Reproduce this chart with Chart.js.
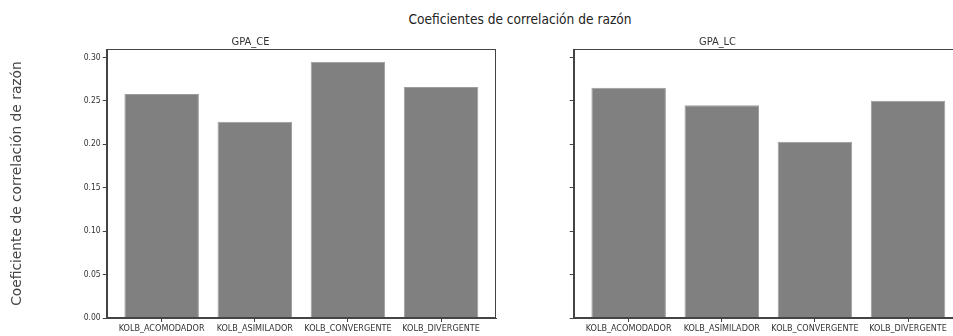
<!DOCTYPE html>
<html>
<head>
<meta charset="utf-8">
<script src="https://cdn.jsdelivr.net/npm/chart.js@4/dist/chart.umd.min.js"></script>
<style>
  html, body { margin: 0; padding: 0; background: #fff; }
  #fig { position: relative; width: 953px; height: 336px; overflow: hidden; background: #fff; }
  #suptitle {
    position: absolute; left: 520px; top: 11px; transform: translateX(-50%);
    font-family: "DejaVu Sans Condensed", "DejaVu Sans", sans-serif; font-size: 13.6px;
    color: #222; white-space: nowrap;
  }
  .panel { position: absolute; top: 0; width: 500px; height: 336px; }
  #p1 { left: 0; }
  #p2 { left: 467px; }
</style>
</head>
<body>
<div id="fig">
  <div id="suptitle">Coeficientes de correlación de razón</div>
  <div class="panel" id="p1"><canvas id="c1" width="500" height="336"></canvas></div>
  <div class="panel" id="p2"><canvas id="c2" width="500" height="336"></canvas></div>
</div>
<script>
// Learning styles (Kolb) and ratio correlation coefficients for each GPA measure
const categories = ["KOLB_ACOMODADOR", "KOLB_ASIMILADOR", "KOLB_CONVERGENTE", "KOLB_DIVERGENTE"];
const gpaCE = [0.258, 0.226, 0.295, 0.266];
const gpaLC = [0.265, 0.245, 0.203, 0.250];
const yTicks = [0.00, 0.05, 0.10, 0.15, 0.20, 0.25, 0.30];
const yLabel = "Coeficiente de correlación de razón";

const INK = "#333";
const SPINE = "#444";
const CONDENSED = '"DejaVu Sans Condensed", "DejaVu Sans", sans-serif';

// draws the closed box around the plotting area
const frame = {
  id: "frame",
  afterDraw(chart) {
    const { ctx, chartArea: a } = chart;
    ctx.save();
    ctx.strokeStyle = SPINE;
    ctx.lineWidth = 1;
    const l = Math.round(a.left) + 0.5, t = Math.round(a.top) + 0.5;
    const r = Math.round(a.right) - 0.5, b = Math.round(a.bottom) - 0.5;
    ctx.strokeRect(l, t, r - l, b - t);
    ctx.restore();
  }
};

function makePanel(canvasId, title, values, showYLabels) {
  return new Chart(document.getElementById(canvasId), {
    type: "bar",
    data: {
      datasets: [{
        data: categories.map((c, i) => ({ x: i, y: values[i] })),
        backgroundColor: "#808080",
        borderColor: "#9c9c9c",
        borderWidth: 1,
        barPercentage: 0.8,
        categoryPercentage: 1.0
      }]
    },
    options: {
      responsive: false,
      animation: false,
      layout: { padding: { left: 5, right: 4, top: 0, bottom: 0 } },
      plugins: {
        legend: { display: false },
        tooltip: { enabled: false },
        title: {
          display: true,
          text: title,
          color: INK,
          font: { family: CONDENSED, size: 11, weight: "normal", lineHeight: 1.2 },
          padding: { top: 35.4, bottom: 0.4 }
        }
      },
      scales: {
        x: {
          type: "linear",
          offset: false,
          min: -0.59,
          max: 3.59,
          afterBuildTicks: s => { s.ticks = categories.map((c, i) => ({ value: i })); },
          afterFit: s => { s.height = 18; },
          ticks: {
            autoSkip: false,
            maxRotation: 0,
            color: INK,
            padding: 1,
            font: { family: CONDENSED, size: 9 },
            callback: v => categories[v]
          },
          grid: { offset: false, drawOnChartArea: false, drawTicks: true, tickLength: 4, color: SPINE },
          border: { display: true, color: SPINE }
        },
        y: {
          min: 0,
          max: 0.3097,
          afterBuildTicks: s => { s.ticks = yTicks.map(v => ({ value: v })); },
          afterFit: s => { s.width = 101.7; },
          ticks: {
            color: INK,
            padding: 2,
            font: { family: CONDENSED, size: 8.5 },
            callback: v => showYLabels ? v.toFixed(2) : ""
          },
          grid: { drawOnChartArea: false, drawTicks: true, tickLength: 4, color: SPINE },
          border: { display: true, color: SPINE },
          title: {
            display: showYLabels,
            text: yLabel,
            color: "#444",
            font: { family: '"DejaVu Sans", sans-serif', size: 13.8 },
            padding: { top: 4, bottom: 4 }
          }
        }
      }
    },
    plugins: [frame]
  });
}

makePanel("c1", "GPA_CE", gpaCE, true);
makePanel("c2", "GPA_LC", gpaLC, false);
</script>
</body>
</html>
